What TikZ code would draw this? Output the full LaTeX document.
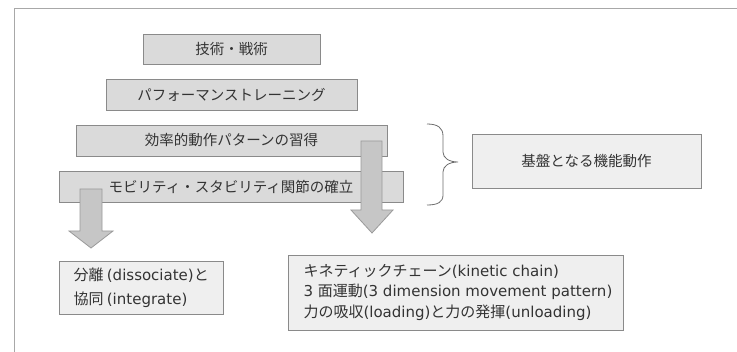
\documentclass[tikz,border=0pt]{standalone}
\usepackage{fontspec}
\setmainfont{Noto Sans CJK JP}
\newfontfamily\lat{DejaVu Sans}
\definecolor{txt}{HTML}{333333}
\definecolor{boxfill}{HTML}{DADADA}
\definecolor{boxline}{HTML}{8A8A8A}
\definecolor{litefill}{HTML}{EFEFEF}
\definecolor{arrowfill}{HTML}{C6C6C6}
\definecolor{arrowline}{HTML}{9A9A9A}
\definecolor{framecol}{HTML}{A8A8A8}
\begin{document}
\begin{tikzpicture}[x=1pt,y=-1pt,
  levelbox/.style={draw=boxline,fill=boxfill,line width=0.8pt,inner sep=0pt,text=txt,
    font=\fontsize{14.5}{16}\selectfont},
  notebox/.style={draw=boxline,fill=litefill,line width=0.8pt,inner sep=0pt,text=txt},
  bigarrow/.style={draw=arrowline,fill=arrowfill,line width=0.8pt,line join=miter},
  bracecol/.style={draw=boxline!80!black,line width=0.8pt}]
\useasboundingbox (0,0) rectangle (737,352);
\fill[white] (0,0) rectangle (737,352);
% frame
\draw[framecol,line width=0.9pt] (14,352) -- (14,8) -- (737,8);
% level boxes
\path[levelbox] (143,34) rectangle (320,64);
\node[text=txt,font=\fontsize{14.5}{16}\selectfont] (b1) at (231.5,49) {技術・戦術};
\path[levelbox] (106,79) rectangle (357,110);
\node[text=txt,font=\fontsize{14.5}{16}\selectfont] (b2) at (231.5,94.5) {パフォーマンストレーニング};
\path[levelbox] (76,125) rectangle (387,156);
\node[text=txt,font=\fontsize{14.5}{16}\selectfont] (b3) at (231.5,140.5) {効率的動作パターンの習得};
\path[levelbox] (59,171) rectangle (403,202);
\node[text=txt,font=\fontsize{14.5}{16}\selectfont] (b4) at (231,186.5) {モビリティ・スタビリティ関節の確立};
% arrows
\coordinate (la) at (91,248);
\coordinate (ra) at (372,233);
\path[bigarrow] (80,189) -- (102,189) -- (102,231) -- (113,231) -- (la) -- (69,231) -- (80,231) -- cycle;
\path[bigarrow] (361,141) -- (382,141) -- (382,210) -- (393,210) -- (ra) -- (351,210) -- (361,210) -- cycle;
% brace
\draw[bracecol] (427,124) .. controls (438,124) and (443,128) .. (443,136) -- (443,152)
  .. controls (443,158) and (449,162) .. (458,162)
  .. controls (449,162) and (443,166) .. (443,172) -- (443,195)
  .. controls (443,202) and (438,205) .. (427,205);
\coordinate (bt) at (458,162);
% foundation box
\path[notebox] (472,134) rectangle (701,188);
\node[text=txt,font=\fontsize{14.5}{16}\selectfont] (base) at (586.5,161) {基盤となる機能動作};
% bottom boxes
\path[notebox] (59,261) rectangle (223,314);
\node[text=txt,font=\fontsize{15}{24}\selectfont,align=left,anchor=west] (dis) at (70,287.5)
  {分離 {\lat(dissociate)}と\\協同 {\lat(integrate)}};
\path[notebox] (288,255) rectangle (623,330);
\node[text=txt,font=\fontsize{15}{20.5}\selectfont,align=left,anchor=west] (kin) at (300,292.5)
  {キネティックチェーン{\lat(kinetic chain)}\\
   {\lat 3 }面運動{\lat(3 dimension movement pattern)}\\
   力の吸収{\lat(loading)}と力の発揮{\lat(unloading)}};
\end{tikzpicture}
\end{document}
